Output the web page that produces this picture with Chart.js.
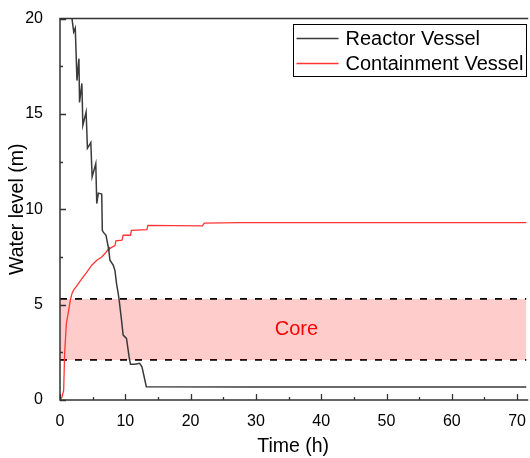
<!DOCTYPE html>
<html>
<head>
<meta charset="utf-8">
<script src="https://cdn.jsdelivr.net/npm/chart.js@4.4.1/dist/chart.umd.min.js"></script>
<style>
html, body { margin: 0; padding: 0; background: #fff; overflow: hidden; }
</style>
</head>
<body>
<canvas id="myChart" width="530" height="458"></canvas>
<script>
// Reactor vessel water level (m) vs time (h)
const rvTime  = [1.7, 1.84, 2.1, 2.34, 2.6, 2.9, 2.99, 3.35, 3.5, 4.0,
                 4.2, 4.72, 4.92, 5.48, 5.63, 5.87, 6.39, 6.48, 6.63, 7.04,
                 7.39, 7.5, 7.65, 8.15, 8.41, 8.66, 8.91, 9.06, 9.42, 9.67,
                 10.18, 10.58, 10.79, 11.44, 12.2, 12.55, 13.22, 30, 50, 72];
const rvLevel = [20.6, 20.0, 19.3, 19.5, 16.75, 17.9, 15.6, 16.6, 14.4, 15.1,
                 13.2, 13.5, 11.7, 12.4, 10.3, 10.85, 10.8, 8.9, 8.8, 8.64,
                 8.03, 7.76, 7.33, 7.07, 6.8, 6.1, 5.59, 5.24, 4.19, 3.4,
                 3.23, 2.27, 1.87, 1.87, 1.92, 1.74, 0.7, 0.68, 0.68, 0.68];

// Containment vessel water level (m) vs time (h)
const cvTime  = [0, 0.32, 0.56, 0.71, 0.97, 1.23, 1.58, 1.84, 2.08, 2.6,
                 3.35, 4.11, 4.87, 5.63, 6.39, 6.89, 7.39, 8.41, 8.56, 9.5,
                 9.67, 10.8, 10.94, 13.3, 13.46, 21.8, 22.1, 27.4, 72];
const cvLevel = [0, 0.17, 0.5, 2.44, 4.0, 4.5, 5.24, 5.58, 5.76, 6.0,
                 6.37, 6.7, 7.07, 7.33, 7.5, 7.68, 7.9, 8.1, 8.34, 8.38,
                 8.64, 8.64, 8.9, 8.93, 9.16, 9.13, 9.28, 9.3, 9.3];

// Core region bounds (m)
const coreTop = 5.3;
const coreBottom = 2.1;

const xTicks = [0, 10, 20, 30, 40, 50, 60, 70];
const yTicks = [0, 5, 10, 15, 20];
const seriesNames = ['Reactor Vessel', 'Containment Vessel'];
const seriesColors = ['#3a3a3a', '#ff3535'];

function toPoints(xs, ys) {
    return xs.map((x, i) => ({ x: x, y: ys[i] }));
}

const FONT = '"Liberation Sans", Arial, sans-serif';

// draws the frame, inward ticks, legend box and the "Core" label
const decorations = {
    id: 'decorations',
    afterDatasetsDraw(chart) {
        const ctx = chart.ctx;
        const a = chart.chartArea;
        const xs = chart.scales.x, ys = chart.scales.y;
        ctx.save();

        // Core label
        ctx.fillStyle = '#ff0000';
        ctx.font = '20px ' + FONT;
        ctx.textAlign = 'center';
        ctx.textBaseline = 'middle';
        ctx.fillText('Core', xs.getPixelForValue(36.2), ys.getPixelForValue((coreTop + coreBottom) / 2));

        // frame
        ctx.strokeStyle = '#333';
        ctx.lineWidth = 1.5;
        ctx.beginPath();
        ctx.moveTo(a.right + 2, a.top);
        ctx.lineTo(a.left, a.top);
        ctx.lineTo(a.left, a.bottom);
        ctx.lineTo(a.right + 2, a.bottom);
        ctx.stroke();

        // inward ticks
        ctx.lineWidth = 1.3;
        ctx.beginPath();
        for (let v = 0; v <= 70; v += 5) {
            const px = Math.round(xs.getPixelForValue(v)) + 0.5;
            const len = v % 10 === 0 ? 6 : 3;
            ctx.moveTo(px, a.bottom);
            ctx.lineTo(px, a.bottom - len);
        }
        for (let v = 0; v <= 20; v += 2.5) {
            const py = Math.round(ys.getPixelForValue(v)) + 0.5;
            const len = v % 5 === 0 ? 6 : 3;
            ctx.moveTo(a.left, py);
            ctx.lineTo(a.left + len, py);
        }
        ctx.stroke();

        // legend
        const lx = 293.5, ly = 24.5, lw = 233, lh = 52;
        ctx.fillStyle = '#fff';
        ctx.fillRect(lx, ly, lw, lh);
        ctx.strokeStyle = '#000';
        ctx.lineWidth = 1;
        ctx.strokeRect(lx, ly, lw, lh);
        ctx.font = '20px ' + FONT;
        ctx.textAlign = 'left';
        ctx.textBaseline = 'middle';
        seriesNames.forEach((name, i) => {
            const yy = ly + 14 + i * 25;
            ctx.strokeStyle = seriesColors[i];
            ctx.lineWidth = 1.3;
            ctx.beginPath();
            ctx.moveTo(lx + 3, yy);
            ctx.lineTo(lx + 45, yy);
            ctx.stroke();
            ctx.fillStyle = '#000';
            ctx.fillText(name, lx + 52, yy + 1);
        });
        ctx.restore();
    }
};

const ctx = document.getElementById('myChart').getContext('2d');
const myChart = new Chart(ctx, {
    type: 'line',
    data: {
        datasets: [
            {
                label: seriesNames[0],
                data: toPoints(rvTime, rvLevel),
                borderColor: seriesColors[0],
                borderWidth: 1.5,
                pointRadius: 0,
                tension: 0,
                fill: false,
                order: 1
            },
            {
                label: seriesNames[1],
                data: toPoints(cvTime, cvLevel),
                borderColor: seriesColors[1],
                borderWidth: 1.3,
                pointRadius: 0,
                tension: 0,
                fill: false,
                order: 1
            },
            {
                label: 'core top',
                data: [{ x: 0, y: coreTop }, { x: 72, y: coreTop }],
                borderColor: '#000',
                borderWidth: 1.8,
                borderDash: [7, 8],
                pointRadius: 0,
                backgroundColor: 'rgba(255, 0, 0, 0.2)',
                fill: '+1',
                order: 2
            },
            {
                label: 'core bottom',
                data: [{ x: 0, y: coreBottom }, { x: 72, y: coreBottom }],
                borderColor: '#000',
                borderWidth: 1.8,
                borderDash: [7, 8],
                pointRadius: 0,
                fill: false,
                order: 2
            }
        ]
    },
    options: {
        responsive: false,
        animation: false,
        layout: { padding: { top: 18, right: 0, left: 0, bottom: 0 } },
        plugins: {
            legend: { display: false },
            tooltip: { enabled: false }
        },
        scales: {
            x: {
                type: 'linear',
                min: 0,
                max: 71.4,
                afterFit: s => { s.height = 58; },
                afterBuildTicks: s => { s.ticks = xTicks.map(v => ({ value: v })); },
                grid: { display: false },
                border: { display: false },
                ticks: { color: '#000', padding: 4, maxRotation: 0, font: { family: FONT, size: 16 } },
                title: { display: true, text: 'Time (h)', color: '#000', padding: { top: 0, bottom: 0 }, font: { family: FONT, size: 19.5 } }
            },
            y: {
                min: 0,
                max: 20,
                afterFit: s => { s.width = 60; },
                afterBuildTicks: s => { s.ticks = yTicks.map(v => ({ value: v })); },
                grid: { display: false },
                border: { display: false },
                ticks: { color: '#000', padding: 9, font: { family: FONT, size: 16 } },
                title: { display: true, text: 'Water level (m)', color: '#000', padding: { top: 6, bottom: 0 }, font: { family: FONT, size: 19.5 } }
            }
        }
    },
    plugins: [decorations]
});
</script>
</body>
</html>
